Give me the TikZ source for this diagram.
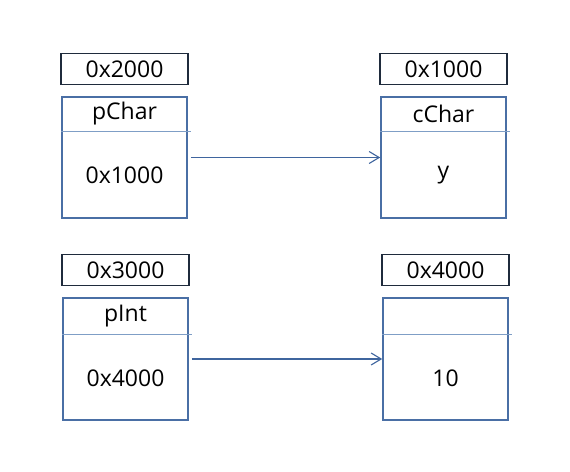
\documentclass[tikz,border=0pt]{standalone}
\usepackage{fontspec}
\setmainfont{Open Sans}
\usetikzlibrary{arrows.meta,positioning}
\definecolor{boxblue}{HTML}{4A6FA5}
\definecolor{lineblue}{HTML}{7F9EC6}
\definecolor{addrnavy}{HTML}{1F2B3C}
\definecolor{arrowblue}{HTML}{3F659E}
\tikzset{
  addrbox/.style={
    draw=addrnavy,
    line width=1.6pt,
    minimum width=127pt,
    minimum height=31pt,
    inner sep=0pt,
    font=\fontsize{23}{26}\selectfont
  },
  varbox/.style={
    draw=boxblue,
    line width=1.6pt,
    minimum width=125pt,
    minimum height=121pt,
    inner sep=0pt
  },
  namelbl/.style={
    minimum width=125pt,
    minimum height=35pt,
    inner sep=0pt,
    font=\fontsize{23}{26}\selectfont
  },
  valuelbl/.style={
    minimum width=125pt,
    minimum height=86pt,
    inner sep=0pt,
    font=\fontsize{23}{26}\selectfont
  },
  divider/.style={
    draw=lineblue,
    line width=0.9pt
  },
  ptrarrow/.style={
    -{Straight Barb[length=10pt,width=12pt,line width=1.1pt]},
    draw=arrowblue,
    line width=1.1pt
  }
}

\begin{document}
\begin{tikzpicture}[x=1pt,y=-1pt]
  \useasboundingbox (0,0) rectangle (570,471);
  % upper row: char pointer
  \node[varbox] (pchar) at (124.5,157.5) {};
  \node[addrbox, above=11pt of pchar] (pcharaddr) {0x2000};
  \node[namelbl, below=0pt of pchar.north] (pcharname) {pChar};
  \node[valuelbl, below=0pt of pcharname] (pcharval) {0x1000};
  \draw[divider] (pchar.west |- pcharname.south) -- ([xshift=3pt]pchar.east |- pcharname.south);

  \node[varbox] (cchar) at (443.5,157.5) {};
  \node[addrbox, above=11pt of cchar] (ccharaddr) {0x1000};
  \node[namelbl, below=0pt of cchar.north] (ccharname) {cChar};
  \node[valuelbl, below=0pt of ccharname] (ccharval) {y};
  \draw[divider] (cchar.west |- ccharname.south) -- ([xshift=3pt]cchar.east |- ccharname.south);

  \draw[ptrarrow] ([xshift=3pt]pchar.east) -- (cchar.west);

  % lower row: int pointer
  \node[varbox, minimum height=122pt] (pint) at (125.5,359) {};
  \node[addrbox, above=11pt of pint] (pintaddr) {0x3000};
  \node[namelbl, minimum height=37pt, below=0pt of pint.north] (pintname) {pInt};
  \node[valuelbl, below=0pt of pintname] (pintval) {0x4000};
  \draw[divider] (pint.west |- pintname.south) -- ([xshift=3pt]pint.east |- pintname.south);

  \node[varbox, minimum height=122pt] (ival) at (445.5,359) {};
  \node[addrbox, above=11pt of ival] (ivaladdr) {0x4000};
  \node[namelbl, minimum height=37pt, below=0pt of ival.north] (ivalname) {};
  \node[valuelbl, below=0pt of ivalname] (ivalval) {10};
  \draw[divider] (ival.west |- ivalname.south) -- ([xshift=3pt]ival.east |- ivalname.south);

  \draw[ptrarrow] ([xshift=3pt]pint.east) -- (ival.west);
\end{tikzpicture}
\end{document}
